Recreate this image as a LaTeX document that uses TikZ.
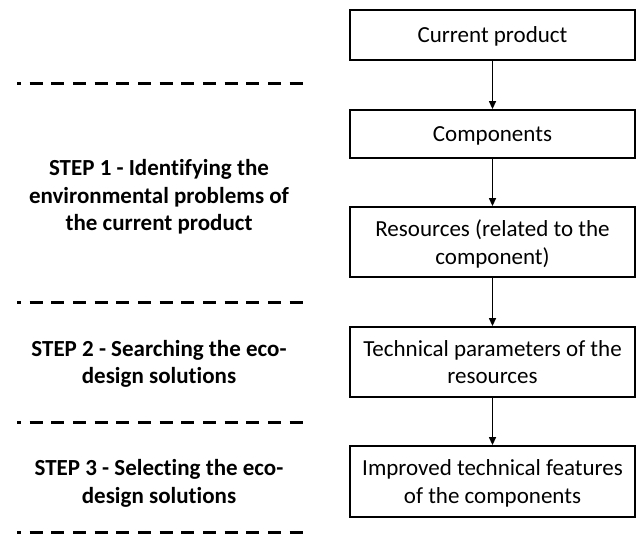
\documentclass[tikz,border=0pt]{standalone}
\usepackage{fontspec}
\setmainfont[Ligatures=NoCommon]{Carlito}
\usetikzlibrary{arrows.meta}
\begin{document}
\begin{tikzpicture}[x=1pt,y=-1pt,
  box/.style={draw=black,line width=1.8pt,minimum width=285pt,inner sep=2pt,align=center,
    text depth=0pt,font=\fontsize{23}{27.5}\selectfont},
  steplabel/.style={align=center,inner sep=0pt,text depth=0pt,font=\fontsize{23}{27.5}\selectfont\bfseries},
  sep/.style={line width=3pt,dash pattern=on 13pt off 8.67pt,dash phase=9pt},
  flow/.style={line width=1.3pt,-{Triangle[length=8pt,width=7pt]}}]
\useasboundingbox (0,0) rectangle (638,535);
\node[box,minimum height=50pt] (b1) at (492.5,35) {Current product};
\node[box,minimum height=48pt] (b2) at (492.5,134) {Components};
\node[box,minimum height=70pt] (b3) at (492.5,242) {Resources (related to the\\component)};
\node[box,minimum height=70pt] (b4) at (492.5,362) {Technical parameters of the\\resources};
\node[box,minimum height=71pt] (b5) at (492.5,481.5) {Improved technical features\\of the components};
\draw[flow] (b1) -- (b2);
\draw[flow] (b2) -- (b3);
\draw[flow] (b3) -- (b4);
\draw[flow] (b4) -- (b5);
\foreach \yy in {84,302,422,532} \draw[sep] (17,\yy) -- (303,\yy);
\node[steplabel] (s1) at (159,195) {STEP 1 - Identifying the\\environmental problems of\\the current product};
\node[steplabel] (s2) at (159,362) {STEP 2 - Searching the eco-\\design solutions};
\node[steplabel] (s3) at (159,481.5) {STEP 3 - Selecting the eco-\\design solutions};
\end{tikzpicture}
\end{document}
